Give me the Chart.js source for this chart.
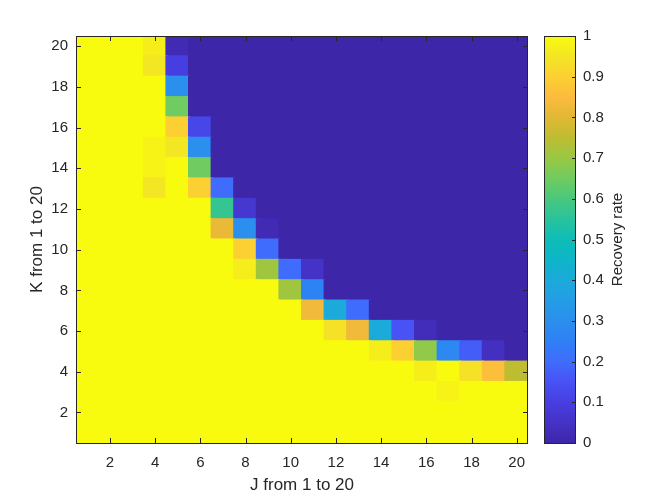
<!DOCTYPE html>
<html>
<head>
<meta charset="utf-8">
<script src="https://cdn.jsdelivr.net/npm/chart.js@4.4.1/dist/chart.umd.min.js"></script>
<style>
    html, body { margin: 0; padding: 0; background: #ffffff; }
    #wrap { position: relative; width: 664px; height: 498px; }
    #heatmap { position: absolute; left: 0; top: 0; }
    #colorbar { position: absolute; left: 530px; top: 0; }
</style>
</head>
<body>
<div id="wrap">
    <canvas id="heatmap" width="540" height="498"></canvas>
    <canvas id="colorbar" width="134" height="498"></canvas>
</div>
<script>
// J and K categories (columns / rows of the grid)
const jValues = [1, 2, 3, 4, 5, 6, 7, 8, 9, 10, 11, 12, 13, 14, 15, 16, 17, 18, 19, 20];
const kValues = [1, 2, 3, 4, 5, 6, 7, 8, 9, 10, 11, 12, 13, 14, 15, 16, 17, 18, 19, 20];
const jTicks = [2, 4, 6, 8, 10, 12, 14, 16, 18, 20];
const kTicks = [2, 4, 6, 8, 10, 12, 14, 16, 18, 20];
const rateTicks = [0, 0.1, 0.2, 0.3, 0.4, 0.5, 0.6, 0.7, 0.8, 0.9, 1];
const rateTickLabels = ['0', '0.1', '0.2', '0.3', '0.4', '0.5', '0.6', '0.7', '0.8', '0.9', '1'];

// recovery rate for each K row, J = 1..20
const rateK1  = [1, 1, 1, 1, 1, 1, 1, 1, 1, 1, 1, 1, 1, 1, 1, 1, 1, 1, 1, 1];
const rateK2  = [1, 1, 1, 1, 1, 1, 1, 1, 1, 1, 1, 1, 1, 1, 1, 1, 1, 1, 1, 1];
const rateK3  = [1, 1, 1, 1, 1, 1, 1, 1, 1, 1, 1, 1, 1, 1, 1, 1, 0.98, 1, 1, 1];
const rateK4  = [1, 1, 1, 1, 1, 1, 1, 1, 1, 1, 1, 1, 1, 1, 1, 0.97, 1, 0.94, 0.86, 0.75];
const rateK5  = [1, 1, 1, 1, 1, 1, 1, 1, 1, 1, 1, 1, 1, 0.97, 0.9, 0.69, 0.28, 0.17, 0.04, 0];
const rateK6  = [1, 1, 1, 1, 1, 1, 1, 1, 1, 1, 1, 0.94, 0.83, 0.4, 0.15, 0.03, 0, 0, 0, 0];
const rateK7  = [1, 1, 1, 1, 1, 1, 1, 1, 1, 1, 0.83, 0.4, 0.2, 0, 0, 0, 0, 0, 0, 0];
const rateK8  = [1, 1, 1, 1, 1, 1, 1, 1, 1, 0.71, 0.26, 0, 0, 0, 0, 0, 0, 0, 0, 0];
const rateK9  = [1, 1, 1, 1, 1, 1, 1, 0.97, 0.71, 0.2, 0.05, 0, 0, 0, 0, 0, 0, 0, 0, 0];
const rateK10 = [1, 1, 1, 1, 1, 1, 1, 0.9, 0.2, 0, 0, 0, 0, 0, 0, 0, 0, 0, 0, 0];
const rateK11 = [1, 1, 1, 1, 1, 1, 0.82, 0.3, 0.02, 0, 0, 0, 0, 0, 0, 0, 0, 0, 0, 0];
const rateK12 = [1, 1, 1, 1, 1, 1, 0.57, 0.07, 0, 0, 0, 0, 0, 0, 0, 0, 0, 0, 0, 0];
const rateK13 = [1, 1, 1, 0.95, 1, 0.9, 0.2, 0, 0, 0, 0, 0, 0, 0, 0, 0, 0, 0, 0, 0];
const rateK14 = [1, 1, 1, 0.98, 1, 0.65, 0, 0, 0, 0, 0, 0, 0, 0, 0, 0, 0, 0, 0, 0];
const rateK15 = [1, 1, 1, 0.98, 0.95, 0.3, 0, 0, 0, 0, 0, 0, 0, 0, 0, 0, 0, 0, 0, 0];
const rateK16 = [1, 1, 1, 1, 0.9, 0.12, 0, 0, 0, 0, 0, 0, 0, 0, 0, 0, 0, 0, 0, 0];
const rateK17 = [1, 1, 1, 1, 0.65, 0, 0, 0, 0, 0, 0, 0, 0, 0, 0, 0, 0, 0, 0, 0];
const rateK18 = [1, 1, 1, 1, 0.3, 0, 0, 0, 0, 0, 0, 0, 0, 0, 0, 0, 0, 0, 0, 0];
const rateK19 = [1, 1, 1, 0.95, 0.1, 0, 0, 0, 0, 0, 0, 0, 0, 0, 0, 0, 0, 0, 0, 0];
const rateK20 = [1, 1, 1, 0.97, 0.02, 0, 0, 0, 0, 0, 0, 0, 0, 0, 0, 0, 0, 0, 0, 0];

const rateRows = [rateK1, rateK2, rateK3, rateK4, rateK5, rateK6, rateK7, rateK8, rateK9, rateK10,
    rateK11, rateK12, rateK13, rateK14, rateK15, rateK16, rateK17, rateK18, rateK19, rateK20];

// parula-like colormap stops
const parula = [
    [0.00, 62, 38, 168], [0.05, 69, 50, 198], [0.10, 71, 62, 225], [0.15, 72, 82, 245],
    [0.20, 63, 108, 253], [0.25, 47, 128, 246], [0.30, 43, 143, 237], [0.35, 35, 157, 229],
    [0.40, 28, 170, 219], [0.45, 14, 181, 201], [0.50, 13, 189, 183], [0.55, 40, 195, 157],
    [0.60, 73, 200, 125], [0.65, 112, 203, 96], [0.70, 153, 200, 68], [0.75, 190, 189, 49],
    [0.80, 224, 184, 52], [0.85, 252, 187, 62], [0.90, 252, 208, 50], [0.95, 243, 230, 35],
    [1.00, 249, 251, 14]
];

const textColor = '#262626';
const fontFamily = '"Liberation Sans", Arial, Helvetica, sans-serif';

function parulaColor(v) {
    v = Math.max(0, Math.min(1, v));
    for (let i = 1; i < parula.length; i++) {
        if (v <= parula[i][0]) {
            const a = parula[i - 1], b = parula[i];
            const t = (v - a[0]) / (b[0] - a[0]);
            const r = Math.round(a[1] + (b[1] - a[1]) * t);
            const g = Math.round(a[2] + (b[2] - a[2]) * t);
            const bl = Math.round(a[3] + (b[3] - a[3]) * t);
            return `rgb(${r},${g},${bl})`;
        }
    }
    return 'rgb(249,251,14)';
}

// one floating-bar dataset per K row
const datasets = kValues.map((k, i) => ({
    data: jValues.map(j => ({ x: j, y: [k - 0.5, k + 0.5] })),
    backgroundColor: rateRows[i].map(parulaColor),
    borderWidth: 0,
    inflateAmount: 1,
    barPercentage: 1,
    categoryPercentage: 1,
    grouped: false
}));

// axes box and inward ticks like MATLAB
const axesBox = {
    id: 'axesBox',
    afterDraw(chart) {
        const { ctx, chartArea: a, scales: { x, y } } = chart;
        ctx.save();
        ctx.strokeStyle = textColor;
        ctx.lineWidth = 1;
        ctx.beginPath();
        x.ticks.forEach(t => {
            const px = Math.round(x.getPixelForValue(t.value)) + 0.5;
            ctx.moveTo(px, a.bottom); ctx.lineTo(px, a.bottom - 5);
            ctx.moveTo(px, a.top); ctx.lineTo(px, a.top + 5);
        });
        y.ticks.forEach(t => {
            const py = Math.round(y.getPixelForValue(t.value)) + 0.5;
            ctx.moveTo(a.left, py); ctx.lineTo(a.left + 5, py);
            ctx.moveTo(a.right, py); ctx.lineTo(a.right - 5, py);
        });
        ctx.stroke();
        ctx.strokeRect(a.left + 0.5, a.top + 0.5, a.right - a.left - 1, a.bottom - a.top);
        ctx.restore();
    }
};

new Chart(document.getElementById('heatmap'), {
    type: 'bar',
    data: { datasets },
    options: {
        responsive: false,
        animation: false,
        events: [],
        layout: { padding: { top: 36, right: 12, left: 0, bottom: 0 } },
        plugins: { legend: { display: false }, tooltip: { enabled: false } },
        scales: {
            x: {
                type: 'linear',
                min: 0.5,
                max: 20.5,
                offset: false,
                afterBuildTicks: s => { s.ticks = jTicks.map(v => ({ value: v })); },
                afterFit: s => { s.height = 55; },
                grid: { display: false, drawTicks: false },
                border: { display: false },
                ticks: { padding: 11, color: textColor, font: { family: fontFamily, size: 15 }, maxRotation: 0, callback: v => String(v) },
                title: { display: true, text: 'J from 1 to 20', color: textColor, font: { family: fontFamily, size: 17 }, padding: { top: 0, bottom: 2 } }
            },
            y: {
                type: 'linear',
                min: 0.5,
                max: 20.5,
                afterBuildTicks: s => { s.ticks = kTicks.map(v => ({ value: v })); },
                afterFit: s => { s.width = 76; },
                grid: { display: false, drawTicks: false },
                border: { display: false },
                ticks: { padding: 8, color: textColor, font: { family: fontFamily, size: 15 }, callback: v => String(v) },
                title: { display: true, text: 'K from 1 to 20', color: textColor, font: { family: fontFamily, size: 17 }, padding: { top: 27, bottom: 0 } }
            }
        }
    },
    plugins: [axesBox]
});

// colorbar frame, ticks and label
const colorbarFrame = {
    id: 'colorbarFrame',
    afterDraw(chart) {
        const { ctx, chartArea: a, scales: { y } } = chart;
        ctx.save();
        ctx.strokeStyle = textColor;
        ctx.lineWidth = 1;
        ctx.beginPath();
        y.ticks.forEach(t => {
            const py = Math.round(y.getPixelForValue(t.value)) + 0.5;
            ctx.moveTo(a.right, py); ctx.lineTo(a.right - 4, py);
        });
        ctx.stroke();
        ctx.strokeRect(a.left + 0.5, a.top + 0.5, a.right - a.left - 1, a.bottom - a.top);
        ctx.translate(87.5, (a.top + a.bottom) / 2);
        ctx.rotate(-Math.PI / 2);
        ctx.fillStyle = textColor;
        ctx.font = `15px ${fontFamily}`;
        ctx.textAlign = 'center';
        ctx.textBaseline = 'middle';
        ctx.fillText('Recovery rate', 0, 0);
        ctx.restore();
    }
};

new Chart(document.getElementById('colorbar'), {
    type: 'bar',
    data: {
        labels: [''],
        datasets: [{
            data: [[0, 1]],
            backgroundColor: c => {
                const area = c.chart.chartArea;
                if (!area) return parulaColor(0.5);
                const g = c.chart.ctx.createLinearGradient(0, area.bottom, 0, area.top);
                parula.forEach(p => g.addColorStop(p[0], `rgb(${p[1]},${p[2]},${p[3]})`));
                return g;
            },
            borderWidth: 0,
            inflateAmount: 1,
            barPercentage: 1,
            categoryPercentage: 1
        }]
    },
    options: {
        responsive: false,
        animation: false,
        events: [],
        layout: { padding: { top: 36, right: 0, left: 14, bottom: 55 } },
        plugins: { legend: { display: false }, tooltip: { enabled: false } },
        scales: {
            x: { display: false },
            y: {
                position: 'right',
                min: 0,
                max: 1,
                afterBuildTicks: s => { s.ticks = rateTicks.map(v => ({ value: v })); },
                afterFit: s => { s.width = 88; },
                grid: { display: false, drawTicks: false },
                border: { display: false },
                ticks: { padding: 7, color: textColor, font: { family: fontFamily, size: 15 }, callback: (v, i) => rateTickLabels[i] }
            }
        }
    },
    plugins: [colorbarFrame]
});
</script>
</body>
</html>
